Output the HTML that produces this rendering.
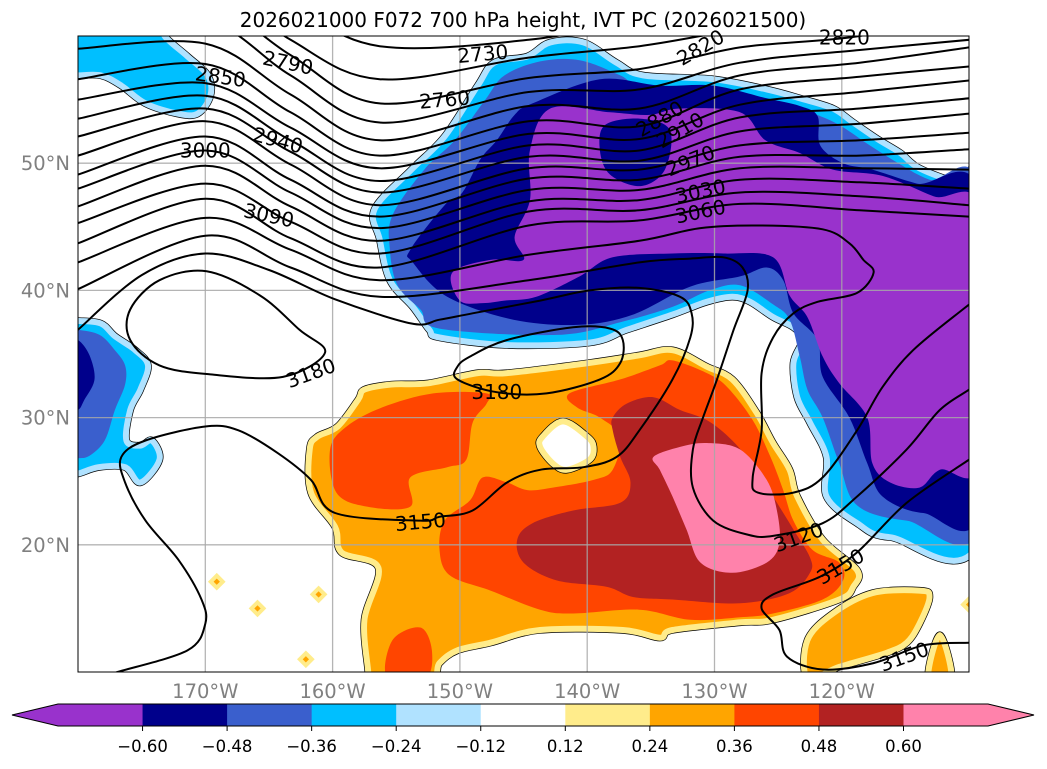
<!DOCTYPE html>
<html><head><meta charset="utf-8">
<style>
html,body{margin:0;padding:0;background:#fff;}
body{width:1047px;height:765px;overflow:hidden;font-family:"DejaVu Sans","Liberation Sans",sans-serif;}
svg text{font-family:"DejaVu Sans","Liberation Sans",sans-serif;}
</style></head>
<body>
<svg id="chart" width="1047" height="765" viewBox="0 0 1047 765" xmlns="http://www.w3.org/2000/svg">
<text x="523" y="27" text-anchor="middle" font-size="20" fill="#000">2026021000 F072 700 hPa height, IVT PC (2026021500)</text>
<defs><clipPath id="mapclip"><rect x="78" y="36" width="891" height="636"/></clipPath></defs>
<rect x="78" y="36" width="891" height="636" fill="#fff"/>
<g id="fills" clip-path="url(#mapclip)"></g>
<g id="grid" clip-path="url(#mapclip)"></g>
<g id="contours" clip-path="url(#mapclip)"></g>
<g id="clabels"></g>
<rect x="78" y="36" width="891" height="636" fill="none" stroke="#000" stroke-width="1"/>
<g id="axlabels"></g>
<g id="cbar"></g>
</svg>
<script>
// ---------- axis data ----------
const lonTicks=[-170,-160,-150,-140,-130,-120];
const lonTickLabels=["170°W","160°W","150°W","140°W","130°W","120°W"];
const latTicks=[20,30,40,50];
const latTickLabels=["20°N","30°N","40°N","50°N"];
// ---------- colorbar data ----------
const cbColors=["#9932CC","#00008B","#3A5FCD","#00BFFF","#B0E2FF","#FFFFFF","#FFEC8B","#FFA500","#FF4500","#B22222","#FF82AB"];
const cbTicks=["−0.60","−0.48","−0.36","−0.24","−0.12","0.12","0.24","0.36","0.48","0.60"];
// ---------- IVT PC filled regions (lon, lat) ----------
const negBigSky=[[-156.7,46.4],[-153.8,49.5],[-151.2,52.1],[-148.6,56.1],[-147.3,57.9],[-144.7,58.4],[-142.9,59.5],[-140.3,59.5],[-137.7,57.9],[-135.6,56.9],[-130.1,56.6],[-125.9,55.8],[-123.3,55.1],[-120.7,54.3],[-119.1,53.2],[-117.2,51.9],[-115.4,50.8],[-113.9,49.6],[-110.7,48.4],[-109,48.2],[-109,20.9],[-116.2,20.6],[-118.8,21.7],[-121.2,23.8],[-121.2,26.9],[-122.5,29.6],[-123.5,31.6],[-123.8,34.3],[-123.1,36.1],[-123.8,37.1],[-125.4,37.9],[-127.2,39.1],[-128.6,39.5],[-130.6,39.1],[-133.3,38.1],[-136.9,36.9],[-139.8,35.9],[-146.3,35.7],[-151.6,36.3],[-152.4,36.9],[-153.7,38.7],[-155.5,40.8],[-156.3,44.0]];
const negBigRoyal=[[-155.3,45.9],[-152.8,49.5],[-150.4,51.8],[-148.0,55.0],[-146.5,56.9],[-143.7,58.0],[-140.6,58.1],[-137.4,56.9],[-135.5,55.8],[-130.1,55.6],[-125.7,55.0],[-122.5,54.0],[-120.2,53.0],[-117.8,51.4],[-115.4,49.9],[-113.1,48.7],[-109,47.5],[-109,21.9],[-114.9,21.9],[-118.8,23.1],[-120.2,26.4],[-121.5,30.0],[-122.7,32.2],[-123.3,34.8],[-124.1,37.7],[-125.4,38.9],[-128.0,40.4],[-130.4,40.0],[-133.3,38.7],[-137.4,37.5],[-142.4,36.5],[-151.6,37.0],[-153.1,38.5],[-154.9,40.4],[-155.5,43.2]];
const negBigNavy=[[-153.9,43.2],[-151.2,46.7],[-149.8,47.7],[-148.4,50.3],[-147.1,51.8],[-145.7,53.8],[-144.3,54.7],[-139.0,56.6],[-134.3,56.1],[-130.1,56.1],[-125.9,55.1],[-123.3,54.5],[-121.9,53.7],[-121.7,51.4],[-119.9,50.0],[-117.6,49.5],[-114.1,48.4],[-109,47.2],[-109,23.1],[-113.6,22.5],[-116.8,23.8],[-118.0,26.4],[-119.4,30.0],[-121.5,33.2],[-121.9,36.1],[-123.8,38.2],[-124.6,40.8],[-125.9,41.8],[-128.0,41.1],[-131.9,40.3],[-136.4,38.1],[-140.6,37.3],[-145.8,37.7],[-151.0,39.5],[-153.7,42.2]];
const negBigPurple=[[-142.9,54.3],[-138.2,54.0],[-135.1,53.8],[-132.7,54.3],[-128.0,54.0],[-126.0,51.8],[-123.3,50.8],[-120.7,49.5],[-116.8,49.0],[-112.8,47.4],[-109,45.9],[-109,26.9],[-112.3,25.9],[-113.9,24.5],[-116.2,24.9],[-117.6,26.4],[-118.0,30.0],[-120.2,32.7],[-121.5,34.8],[-122.7,37.9],[-124.1,39.6],[-125.4,42.6],[-129.3,42.9],[-133.3,42.9],[-138.0,42.6],[-140.6,41.1],[-144.0,39.5],[-146.5,39.2],[-148.2,39.0],[-150.0,39.2],[-150.6,41.4],[-147.6,42.4],[-145.0,42.4],[-145.7,44.2],[-144.5,47.1],[-144.5,51.0]];
const negNavyHole=[[-138.6,53.0],[-135.8,53.5],[-133.5,52.6],[-133.9,49.5],[-135.8,48.2],[-138.2,49.1],[-139.0,51.0]];
const negNWSky=[[-181,61],[-173.2,61],[-173.2,60.0],[-171.4,58.4],[-169.8,56.9],[-169.6,55.3],[-170.6,53.9],[-172.2,53.9],[-174.7,54.7],[-176.6,56.1],[-178.2,56.9],[-180,56.9],[-181,56.9]];
const negWSky=[[-181,37.6],[-180,37.6],[-178.2,37.4],[-177.1,36.4],[-175.5,35.3],[-174.5,34.1],[-175.1,32.2],[-175.9,30.6],[-176.2,28.2],[-175.1,27.8],[-174.2,28.2],[-173.6,26.7],[-175.1,24.9],[-176.3,26.1],[-178.4,26.1],[-180,25.6],[-181,25.6]];
const negWRoyal=[[-181,36.9],[-180,36.9],[-178.3,36.5],[-177.1,35.3],[-176.3,34.1],[-176.3,32.6],[-177.1,30.6],[-177.9,28.2],[-179.1,27.0],[-180,26.8],[-181,26.8]];
const negWNavy=[[-181,36.1],[-180,36.1],[-179.1,34.9],[-178.7,33.0],[-179.5,31.4],[-180,30.6],[-181,30.6]];
const posOrange=[[-158.0,31.4],[-157.5,32.2],[-155.4,32.6],[-152.5,32.7],[-148.6,33.5],[-146.3,33.5],[-139.8,34.3],[-135.9,34.9],[-133.3,35.3],[-130.6,34.0],[-128.6,33.0],[-126.7,30.4],[-125.4,28.0],[-124.1,25.9],[-123.5,23.8],[-121.5,20.4],[-118.8,18.0],[-119.1,16.7],[-120.2,15.7],[-125.4,14.1],[-128.0,13.9],[-133.3,13.3],[-134.3,12.7],[-137.2,13.3],[-143.7,13.3],[-147.6,12.3],[-150.2,11.7],[-151.6,10.7],[-152.4,9.4],[-157.2,9.4],[-157.2,10.0],[-157.5,14.1],[-156.4,18.2],[-159.3,19.4],[-159.8,21.4],[-161.7,24.1],[-161.8,27.5],[-161.2,28.5],[-159.6,29.3]];
const posRedLeft=[[-160.2,27.5],[-158.9,29.3],[-156.1,30.8],[-152.1,31.9],[-147.9,31.9],[-147.9,31.1],[-149.0,29.6],[-149.5,26.7],[-151.0,26.1],[-153.9,25.3],[-153.9,23.0],[-157.3,23.0],[-159.7,24.1]];
const posRedMain=[[-141.4,31.9],[-137.4,33.0],[-134.3,34.1],[-133.3,34.5],[-130.6,33.5],[-129.0,32.4],[-127.0,29.8],[-125.6,26.9],[-124.6,24.3],[-123.8,21.9],[-122.3,19.6],[-120.2,18.6],[-119.9,17.2],[-121.5,15.7],[-125.4,14.6],[-128.0,14.3],[-131.9,14.1],[-135.9,14.9],[-141.1,14.6],[-143.7,14.9],[-147.6,16.4],[-150.8,17.6],[-151.6,19.6],[-151.2,21.9],[-149.2,23.5],[-148.2,25.3],[-146.3,24.9],[-144.7,24.3],[-142.7,24.5],[-139.5,25.1],[-138.0,25.9],[-137.4,28.5],[-139.0,30.0],[-140.8,30.8]];
const posHole=[[-141.9,29.7],[-140.0,28.5],[-139.5,27.7],[-139.8,26.7],[-141.6,25.9],[-142.7,26.4],[-143.7,27.7],[-143.5,28.5]];
const posFirebrick=[[-138.0,30.0],[-136.9,31.1],[-134.8,31.6],[-132.7,30.6],[-130.6,29.8],[-128.6,28.2],[-126.7,25.9],[-125.4,23.8],[-123.8,21.2],[-122.5,19.0],[-122.5,17.8],[-124.1,16.2],[-128.0,15.4],[-133.3,15.7],[-136.4,15.9],[-138.5,16.7],[-142.4,17.2],[-145.0,18.6],[-145.5,20.4],[-144.3,21.7],[-141.1,22.7],[-137.4,23.3],[-136.6,24.9],[-137.4,26.9],[-138.0,29.0]];
const posPink=[[-134.8,26.9],[-132.7,27.7],[-130.6,28.0],[-128.0,27.5],[-125.9,25.1],[-125.1,22.7],[-124.9,20.1],[-125.9,18.6],[-128.6,17.8],[-131.1,18.6],[-132.2,21.2],[-133.3,23.8],[-134.3,25.9]];
const posSE=[[-122.7,12.5],[-120.7,14.6],[-117.6,16.2],[-113.9,16.4],[-113.1,15.9],[-113.9,13.8],[-114.9,12.3],[-116.5,11.5],[-120.2,10.4],[-122.7,9.5]];
const posSE2=[[-113.2,9.5],[-112.3,12.9],[-111.4,9.5]];
const posRedBottom=[[-155.7,9.5],[-155.3,12.5],[-153.1,13.5],[-152.2,11.7],[-152.7,9.5]];
const posSpots=[[-169.1,17.1],[-165.9,15.0],[-161.1,16.1],[-162.1,11.0],[-110,15.3]];
// ---------- 700 hPa height contours ----------
const famLons=[-180,-170,-163.3,-156.3,-144.6,-135.9,-128.0,-118.6,-110.0];
const fam0=[68.3,66.0,62.4,59.2,59.7,61.3,62.4,64.0,65.2];
const fam1=[66.0,64.4,59.7,56.6,58.3,59.2,60.5,61.6,64.0];
const fam2=[63.6,62.8,58.5,54.7,56.7,57.4,59.1,60.0,62.0];
const fam3=[61.3,61.3,56.9,53.2,55.6,55.8,57.9,58.9,59.7];
const fam4=[59.0,59.4,55.4,51.8,54.5,54.3,56.9,57.9,59.1];
const fam5=[56.6,57.8,54.0,50.6,53.3,52.9,55.8,56.8,57.6];
const fam6=[55.0,56.3,52.8,49.6,52.3,51.9,54.6,55.6,56.5];
const fam7=[53.5,55.3,51.8,48.6,51.4,51.0,53.6,54.3,55.1];
const fam8=[52.1,54.3,50.9,47.7,50.5,50.2,52.5,53.1,53.9];
const fam9=[50.6,53.3,49.9,46.7,49.6,49.5,51.4,51.8,52.4];
const fam10=[49.1,52.1,48.7,45.8,48.8,48.7,50.5,50.6,51.1];
const fam11=[48.0,51.0,47.7,44.9,47.9,47.9,49.6,49.6,49.5];
const fam12=[46.6,49.8,46.6,43.9,47.0,47.1,48.7,48.5,48.0];
const fam13=[45.3,48.4,45.4,42.9,46.2,46.3,47.7,47.4,46.7];
const fam14=[43.7,47.2,44.1,41.8,45.1,45.5,46.8,46.3,45.8];
const c3090loop=[[-180,42.2],[-170,45.7],[-163.3,43.2],[-156.3,40.8],[-144.6,42.8],[-135.9,43.9],[-131.1,44.9],[-126.4,45.1],[-121.5,44.8],[-119.4,43.7],[-118.3,42.4],[-117.5,41.4],[-118.8,39.8],[-121.9,39.1],[-123.8,38.2],[-125.4,36.3],[-126.3,33.5],[-126.3,29.0],[-127.0,25.3],[-126.6,24.1],[-123.8,24.1],[-121.5,25.3],[-118.8,29.0],[-116.8,32.4],[-114.4,35.3],[-110.5,38.5],[-109,39.6]];
const c3120=[[-180,40.1],[-170,44.3],[-163.3,41.8],[-156.3,39.5],[-144.6,40.8],[-135.9,42.2],[-131.9,42.5],[-129.3,42.6],[-127.8,41.8],[-127.4,40.0],[-128.5,36.9],[-129.8,33.0],[-130.9,30.0],[-131.7,27.5],[-131.7,24.5],[-130.1,21.9],[-127.4,20.8],[-125.4,20.7],[-121.5,21.7],[-118.8,23.8],[-114.9,27.5],[-112.3,30.6],[-110,32.2],[-109,33]];
const c3150=[[-180,36.9],[-175,41.2],[-170,42.9],[-165,41.6],[-159.8,39.3],[-153.8,37.4],[-151.6,37.7],[-149,38.2],[-143.7,39.2],[-139.8,40.0],[-135.9,40.2],[-132.7,39.5],[-131.8,38.2],[-131.9,36.3],[-133.3,33.0],[-135.9,29.0],[-137.7,26.9],[-140.3,26.1],[-143.7,25.9],[-146.3,24.9],[-149,22.7],[-151.6,22.2],[-153.1,21.9],[-159.8,22.5],[-161.7,25.1],[-164.3,27.2],[-167.4,29.0],[-170,29.3],[-174.7,28.2],[-176.6,26.9],[-176.3,24.9],[-174.7,21.9],[-172.1,18.8],[-170.3,15.7],[-170,13.8],[-171.4,11.7],[-176.9,10.0],[-179,9.4]];
const c3180west=[[-160.6,35.1],[-162.6,36.9],[-165.7,39.6],[-169.9,41.5],[-173.6,40.8],[-175.9,38.5],[-175.9,36.1],[-173.6,34.1],[-169.6,33.4],[-163.9,33.2]];
const c3180mid=[[-150.2,34.0],[-150.2,33.0],[-147.1,32.0],[-143.2,31.9],[-139,33.0],[-137.4,34.3],[-137.2,36.1],[-138.2,37.0],[-141.1,37.1],[-146.3,36.1],[-149.2,34.8]];
const c3150se=[[-109,27.4],[-110,26.7],[-114.9,23.3],[-118.8,19.4],[-121.7,17.5],[-125.4,16.1],[-126.3,15.0],[-124.9,13.3],[-124.3,11.2],[-121.5,10.2],[-117.5,10.7],[-113.6,12.1],[-110,12.3],[-109,12.3]];
// contour labels: [text, lon, lat, rotation]
const labelText=["2730","2760","2790","2850","2940","3000","3090","3180","2820","2820","2880","2910","2970","3030","3060","3180","3150","3120","3150","3150"];
const labelLon=[-148.2,-151.2,-163.5,-168.8,-164.3,-170.0,-165.0,-161.7,-119.8,-131.1,-134.3,-132.7,-131.9,-131.1,-131.1,-147.1,-153.1,-123.4,-120.1,-115.1];
const labelLat=[58.6,55.0,57.9,56.8,51.8,51.0,45.9,33.5,59.9,59.1,53.5,52.6,50.2,47.8,46.2,32.0,21.8,20.6,18.3,11.2];
const labelRot=[-5,-5,12,8,15,0,12,-20,0,-30,-30,-30,-22,-12,-12,0,-5,-20,-30,-20];

// ---------- projection ----------
const X0=78,Y0=672,PX=12.73,PY=12.72;
function X(lon){return X0+(lon+180)*PX;}
function Y(lat){return Y0-(lat-10)*PY;}
const NS="http://www.w3.org/2000/svg";
function mk(tag,attrs,parent){const e=document.createElementNS(NS,tag);for(const k in attrs)e.setAttribute(k,attrs[k]);if(parent)parent.appendChild(e);return e;}
function smooth(pts,closed){
  const p=pts.map(q=>[X(q[0]),Y(q[1])]);const n=p.length;if(n<2)return "";
  let d="M"+p[0][0].toFixed(1)+","+p[0][1].toFixed(1);
  const cnt=closed?n:n-1;
  for(let i=0;i<cnt;i++){
    const p0=p[closed?(i-1+n)%n:Math.max(i-1,0)],p1=p[i],p2=p[(i+1)%n],p3=p[closed?(i+2)%n:Math.min(i+2,n-1)];
    const c1=[p1[0]+(p2[0]-p0[0])/6,p1[1]+(p2[1]-p0[1])/6],c2=[p2[0]-(p3[0]-p1[0])/6,p2[1]-(p3[1]-p1[1])/6];
    d+="C"+c1[0].toFixed(1)+","+c1[1].toFixed(1)+" "+c2[0].toFixed(1)+","+c2[1].toFixed(1)+" "+p2[0].toFixed(1)+","+p2[1].toFixed(1);
  }
  return closed?d+"Z":d;
}
const fills=document.getElementById('fills');
function region(pts,fill,edge,name){
  if(edge){
    const o=mk('path',{d:smooth(pts,true),fill:'none',stroke:'#000','stroke-width':7.4,'stroke-linejoin':'round'},fills);
    
    
  }
  const e=mk('path',{d:smooth(pts,true),fill:fill,stroke:edge||'none','stroke-width':edge?6:0,'stroke-linejoin':'round'},fills);
  
  
}
// negative regions
region(negNWSky,"#00BFFF","#B0E2FF","nw-negative-region");
region(negWSky,"#00BFFF","#B0E2FF","west-negative-region");
region(negWRoyal,"#3A5FCD",null,"west-royalblue-region");
region(negWNavy,"#00008B",null,"west-navy-region");
region(negBigSky,"#00BFFF","#B0E2FF","north-negative-region");
region(negBigRoyal,"#3A5FCD",null,"north-royalblue-region");
region(negBigNavy,"#00008B",null,"north-navy-region");
region(negBigPurple,"#9932CC",null,"north-purple-region");
region(negNavyHole,"#00008B",null,"navy-pocket");
// positive regions
region(posOrange,"#FFA500","#FFEC8B","south-positive-region");
region(posRedLeft,"#FF4500",null,"west-orangered-region");
region(posRedMain,"#FF4500",null,"main-orangered-region");
region(posHole,"#FFFFFF","#FFEC8B","positive-hole");
region(posFirebrick,"#B22222",null,"firebrick-region");
region(posPink,"#FF82AB",null,"pink-core-region");
region(posSE,"#FFA500","#FFEC8B","southeast-positive-region");
region(posSE2,"#FFA500","#FFEC8B","southeast-small-region");
region(posRedBottom,"#FF4500",null,"bottom-orangered-region");
posSpots.forEach(s=>{
  const cx=X(s[0]),cy=Y(s[1]);
  const d=mk('polygon',{points:`${cx},${cy-6} ${cx+6},${cy} ${cx},${cy+6} ${cx-6},${cy}`,fill:'#FFA500',stroke:'#FFEC8B','stroke-width':4},fills);
  
  
});
// grid
const grid=document.getElementById('grid');
lonTicks.forEach(l=>{const g=mk('line',{x1:X(l),x2:X(l),y1:36,y2:672,stroke:'#a8a8a8','stroke-width':1.3,opacity:0.85},grid);
  
  });
latTicks.forEach(l=>{const g=mk('line',{x1:78,x2:969,y1:Y(l),y2:Y(l),stroke:'#a8a8a8','stroke-width':1.3,opacity:0.85},grid);
  
  });
// contours
const cg=document.getElementById('contours');
function cline(pts,closed,name){
  const e=mk('path',{d:smooth(pts,closed),fill:'none',stroke:'#000','stroke-width':2,'stroke-linejoin':'round'},cg);
  
  
}
const fams=[fam0,fam1,fam2,fam3,fam4,fam5,fam6,fam7,fam8,fam9,fam10,fam11,fam12,fam13,fam14];
fams.forEach(f=>{cline(famLons.map((lo,i)=>[lo,f[i]]),false,'height-contour');});
cline(c3090loop,false,'height-contour-3090');
cline(c3120,false,'height-contour-3120');
cline(c3150,false,'height-contour-3150');
cline(c3180west,true,'height-contour-3180-west');
cline(c3180mid,true,'height-contour-3180-mid');
cline(c3150se,false,'height-contour-3150-se');
// labels
const lg=document.getElementById('clabels');
labelText.forEach((t,i)=>{
  const x=X(labelLon[i]),y=Y(labelLat[i]);
  const e=mk('text',{x:x,y:y+7,'text-anchor':'middle','font-size':20,fill:'#000',transform:`rotate(${labelRot[i]} ${x} ${y})`},lg);
  e.textContent=t;
  
  
});
// axis labels
const ax=document.getElementById('axlabels');
lonTicks.forEach((l,i)=>{const e=mk('text',{x:X(l),y:698,'text-anchor':'middle','font-size':19.5,fill:'#808080'},ax);
  e.textContent=lonTickLabels[i];
  
  });
latTicks.forEach((l,i)=>{const e=mk('text',{x:70,y:Y(l)+7,'text-anchor':'end','font-size':19.5,fill:'#808080'},ax);
  e.textContent=latTickLabels[i];
  
  });
// colorbar
const cb=document.getElementById('cbar');
const cbX0=58,cbW=84.55,cbY=704,cbH=22;
const lt=mk('polygon',{points:`${cbX0},${cbY} ${cbX0},${cbY+cbH} 12,${cbY+cbH/2}`,fill:cbColors[0]},cb);


cbColors.forEach((c,i)=>{const r=mk('rect',{x:cbX0+i*cbW,y:cbY,width:cbW+0.5,height:cbH,fill:c},cb);
  
  });
const rEnd=cbX0+cbColors.length*cbW;
const rt=mk('polygon',{points:`${rEnd},${cbY} ${rEnd},${cbY+cbH} 1034,${cbY+cbH/2}`,fill:cbColors[cbColors.length-1]},cb);


const ol=mk('polygon',{points:`12,${cbY+cbH/2} ${cbX0},${cbY} ${rEnd},${cbY} 1034,${cbY+cbH/2} ${rEnd},${cbY+cbH} ${cbX0},${cbY+cbH}`,fill:'none',stroke:'#000','stroke-width':1},cb);


cbTicks.forEach((t,i)=>{
  const x=cbX0+(i+1)*cbW;
  const tk=mk('line',{x1:x,x2:x,y1:cbY+cbH,y2:cbY+cbH+5,stroke:'#000','stroke-width':1},cb);
  
  
  const e=mk('text',{x:x,y:752,'text-anchor':'middle','font-size':16.5,fill:'#000'},cb);
  e.textContent=t;
  
  
});
</script>
</body></html>
